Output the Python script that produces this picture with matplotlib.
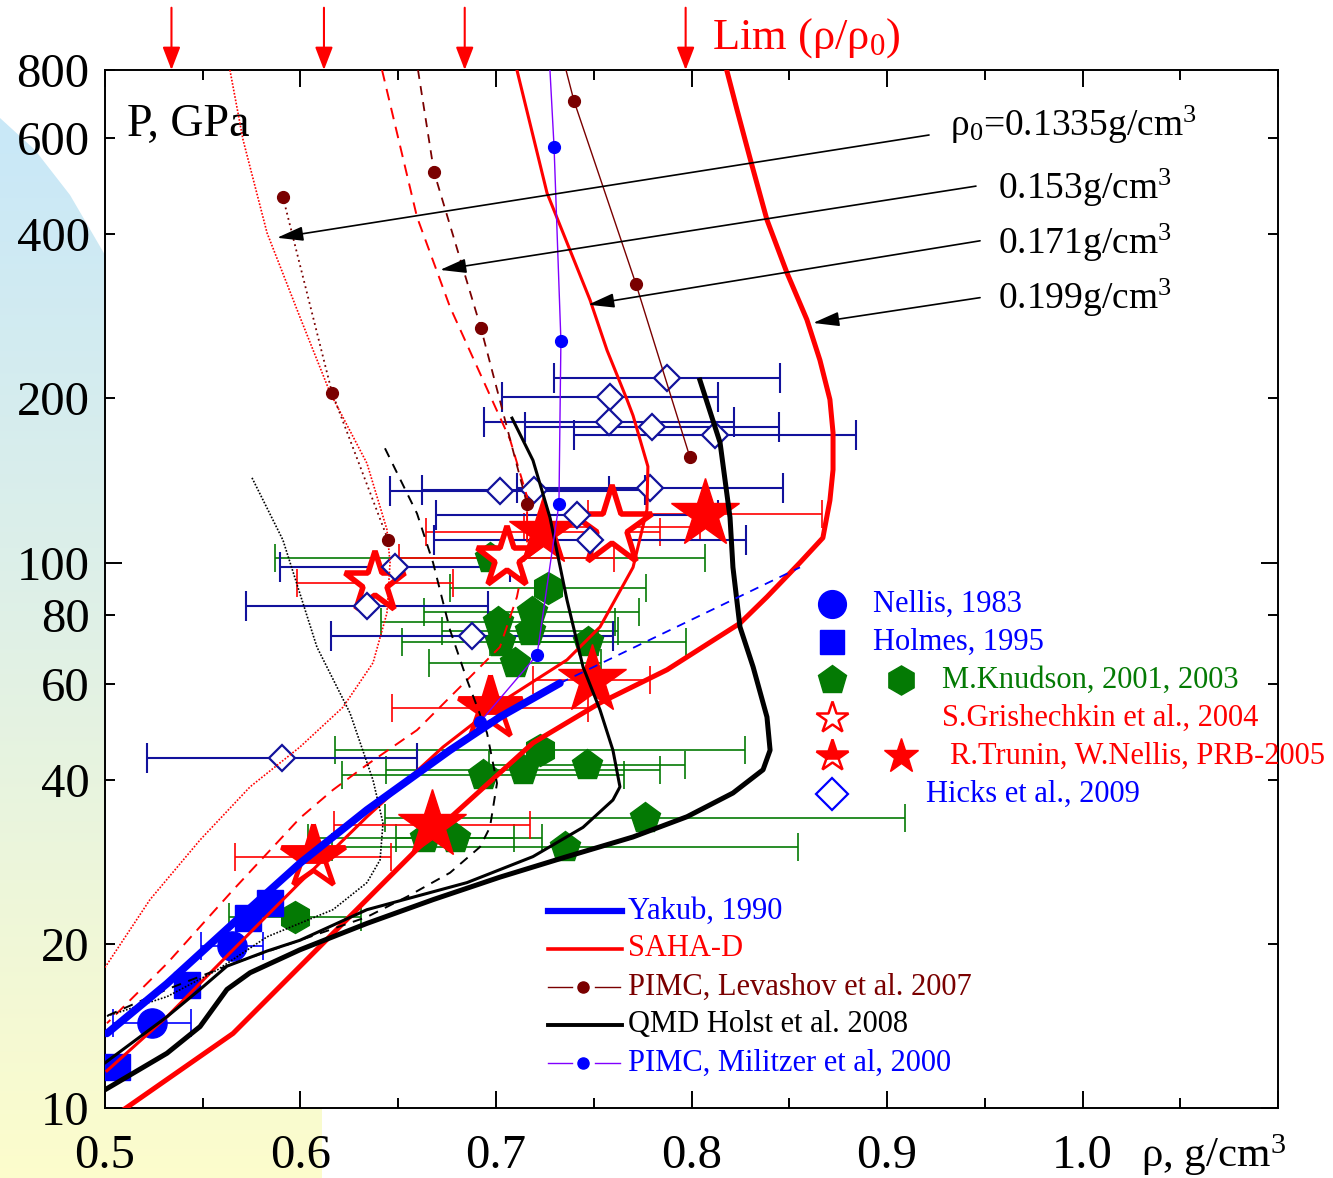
import numpy as np
import matplotlib
matplotlib.use('Agg')
import matplotlib.pyplot as plt
from matplotlib.path import Path
from matplotlib.patches import PathPatch

plt.rcParams['font.family'] = ['Liberation Serif', 'DejaVu Serif']
plt.rcParams['mathtext.fontset'] = 'custom'
plt.rcParams['mathtext.rm'] = 'Liberation Serif'
plt.rcParams['mathtext.it'] = 'Liberation Serif:italic'
plt.rcParams['mathtext.bf'] = 'Liberation Serif:bold'
plt.rcParams['mathtext.default'] = 'regular'

# ---------------- data (rho in g/cm3, P in GPa) ----------------
rho0_labels = ['ρ$_0$=0.1335g/cm$^3$', '0.153g/cm$^3$', '0.171g/cm$^3$', '0.199g/cm$^3$']
lim_rho = [0.534, 0.612, 0.684, 0.797]

# SAHA-D hugoniots for the four initial densities
saha_0199_x = [0.818, 0.8233, 0.830, 0.8386, 0.8488, 0.859, 0.8657, 0.8708, 0.8724, 0.8724, 0.8708,
               0.8672, 0.8555, 0.8386, 0.8248, 0.7875, 0.7532, 0.7189, 0.6678, 0.6166, 0.5655, 0.509]
saha_0199_y = [800, 676, 550, 425, 340, 279, 235, 199, 173, 148, 130,
               111, 100, 86.5, 77.4, 63.6, 55.3, 46.7, 31.9, 20.9, 13.7, 9.9]
saha_0171_x = [0.7107, 0.7261, 0.7481, 0.7568, 0.767, 0.7701, 0.7777, 0.7772, 0.7701, 0.7532,
               0.7363, 0.702, 0.6729, 0.634, 0.5997, 0.5655, 0.5317, 0.501]
saha_0171_y = [800, 476, 303, 245, 199, 186, 150, 125, 98, 76.2,
               66.3, 55.3, 45.9, 34.2, 25.9, 19.5, 14.7, 11.7]
saha_0153_x = [0.6417, 0.6596, 0.6765, 0.6934, 0.7072, 0.7159, 0.7159, 0.7107, 0.702, 0.6852,
               0.6596, 0.634, 0.6166, 0.5997, 0.5655, 0.5317, 0.501]
saha_0153_y = [800, 430, 294, 216, 168, 132, 107, 86.5, 70, 60.9,
               49.3, 42.6, 38.3, 34.0, 25.1, 18.4, 14.3]
saha_01335_x = [0.5639, 0.5706, 0.5829, 0.5997, 0.6151, 0.634, 0.6442, 0.6458, 0.6442, 0.6371,
                0.6217, 0.5997, 0.5742, 0.5486, 0.523, 0.5]
saha_01335_y = [800, 596, 402, 282, 205, 152, 115, 100, 80.8, 65.5,
                54.3, 45.9, 38.8, 31.0, 24.1, 18.1]

# QMD Holst et al. 2008
qmd_a_x = [0.8043, 0.8146, 0.8197, 0.8212, 0.8248, 0.8315, 0.8386, 0.8402, 0.8366, 0.8212, 0.7977,
           0.7701, 0.7363, 0.702, 0.6678, 0.634, 0.5997, 0.5742, 0.5624, 0.5486, 0.5317, 0.5]
qmd_a_y = [216, 166, 121, 98, 76.2, 64.4, 52.1, 45.3, 41.7, 37.8, 34.2,
           31.4, 28.9, 26.5, 24.1, 21.8, 19.5, 17.7, 16.5, 14.1, 12.6, 10.8]
qmd_b_x = [0.7082, 0.7189, 0.7276, 0.7363, 0.7445, 0.7532, 0.7598, 0.7634, 0.7598, 0.7445,
           0.7189, 0.6852, 0.634, 0.5997, 0.5829, 0.5624, 0.5486, 0.5317, 0.5]
qmd_b_y = [184, 154, 121, 85.4, 64.4, 53.7, 45.3, 38.8, 36.7, 32.7,
           28.9, 25.9, 23.1, 20.3, 19.4, 18.2, 16.5, 14.7, 12.1]
qmd_dash_x = [0.6432, 0.6596, 0.6678, 0.6765, 0.6852, 0.6954, 0.7005, 0.6969, 0.6918, 0.6765,
              0.6545, 0.634, 0.5997, 0.5655, 0.5317, 0.5]
qmd_dash_y = [162, 123, 100, 75.2, 60.9, 48.7, 39.4, 32.7, 30.1, 27.0,
              24.4, 22.4, 20.3, 18.4, 16.5, 14.7]
qmd_dot_x = [0.5752, 0.591, 0.6084, 0.6253, 0.6371, 0.6422, 0.6407, 0.634, 0.6166, 0.5829,
             0.5573, 0.5317, 0.5]
qmd_dot_y = [143, 110, 70, 53, 39.9, 33.3, 28.5, 25.9, 23.1, 20.6, 17.9, 16.0, 14.7]

# Yakub 1990
yakub_x = [0.501, 0.5317, 0.5655, 0.5997, 0.634, 0.6765, 0.702, 0.7327]
yakub_y = [13.7, 16.9, 21.8, 28.1, 35.2, 45.3, 52.1, 60.1]
yakub_ext_x = [0.7327, 0.8555]
yakub_ext_y = [60.1, 98]

# PIMC Militzer 2000 (first value = line end at the frame)
mil_x = [0.7276, 0.7297, 0.7332, 0.7322, 0.721, 0.6918]
mil_y = [800, 578, 255, 128, 67.7, 51.0]

# PIMC Levashov 2007
lev1_x = [0.591, 0.6161, 0.6448]
lev1_y = [468, 205, 110]
lev2_x = [0.6601, 0.6683, 0.6923, 0.7159]
lev2_y = [800, 520, 269, 128]
lev3_x = [0.7358, 0.7399, 0.7716, 0.7992]
lev3_y = [800, 702, 324, 156]

# experiments
nellis_x = [0.524, 0.565]
nellis_y = [14.3, 19.8]
nellis_err = [0.02, 0.016]
holmes_x = [0.506, 0.542, 0.573, 0.5844]
holmes_y = [11.9, 16.8, 22.3, 23.8]

knud_p_x = [0.697, 0.7184, 0.701, 0.7174, 0.702, 0.7097, 0.7471, 0.6934, 0.7138, 0.7465,
            0.7762, 0.679, 0.7353, 0.6637]
knud_p_y = [102, 81.2, 77.8, 75.0, 71.5, 65.5, 71.5, 40.8, 41.7, 42.6,
            34.0, 31.3, 30.1, 31.2]
knud_p_err = [0.11, 0.055, 0.06, 0.045, 0.05, 0.044, 0.05, 0.072, 0.07, 0.05,
              0.133, 0.03, 0.119, 0.06]
knud_h_x = [0.5972, 0.7225, 0.7266]
knud_h_y = [22.4, 45.3, 89.8]
knud_h_err = [0.034, 0.105, 0.05]

grish_x = [0.6381, 0.7056, 0.7593]
grish_y = [91.8, 102, 116]
grish_err = [0.04, 0.055, 0.045]

trunin_f_x = [0.8069, 0.724, 0.749, 0.6673]
trunin_f_y = [123, 114, 60.9, 33.0]
trunin_f_err = [0.06, 0.06, 0.03, 0.05]
trunin_h_x = [0.697, 0.6064]
trunin_h_y = [54.1, 28.9]
trunin_h_err = [0.05, 0.04]

hicks_x = [0.7875, 0.7583, 0.7578, 0.7798, 0.812, 0.702, 0.7194, 0.7788, 0.7414, 0.7481,
           0.6483, 0.634, 0.6877, 0.5905]
hicks_y = [218, 201, 181, 177, 171, 135, 136, 137, 122, 110, 98.2, 83.2, 73.3, 43.8]
hicks_err = [0.058, 0.055, 0.064, 0.065, 0.072, 0.056, 0.057, 0.068, 0.072, 0.08,
             0.059, 0.062, 0.072, 0.069]

# arrows from the rho0 labels to the curves
arrow_tail_x = [0.9215, 0.9455, 0.9476, 0.9476]
arrow_tail_y = [608, 490, 389, 306]
arrow_head_x = [0.588, 0.6714, 0.7471, 0.8622]
arrow_head_y = [394, 344, 297, 275]
label_x = [0.932, 0.9568, 0.9568, 0.9568]
label_y = [634, 486, 385, 306]

RED = '#ff0000'
GREEN = '#047a04'
NAVY = '#12129c'
BLUE = '#0000ff'
MAROON = '#7a0000'
PURPLE = '#8000ff'

fig = plt.figure(figsize=(13.33, 11.78), dpi=100)
fig.patch.set_facecolor('white')

# soft gradient decoration behind the frame
bg = fig.add_axes([0, 0, 1, 1], zorder=0)
bg.set_xlim(0, 1333)
bg.set_ylim(1178, 0)
bg.axis('off')
t = np.linspace(0, 1, 400)
stops_t = [0, 0.12, 0.5, 1.0]
stops_c = np.array([[0.79, 0.91, 0.97], [0.79, 0.91, 0.97], [0.87, 0.94, 0.91], [0.99, 0.99, 0.80]])
grad = np.stack([np.interp(t, stops_t, stops_c[:, c]) for c in range(3)], axis=-1)[:, None, :]
im = bg.imshow(grad, extent=[0, 1333, 1178, 0], aspect='auto')
verts = [(0, 118), (35, 150), (70, 195), (105, 255), (160, 345), (220, 460), (280, 590),
         (322, 700), (322, 1178), (0, 1178), (0, 118)]
clip = PathPatch(Path(verts), transform=bg.transData, facecolor='none', edgecolor='none')
bg.add_patch(clip)
im.set_clip_path(clip)

ax = fig.add_axes([105 / 1333, 70 / 1178, 1173 / 1333, 1038 / 1178], zorder=1)
ax.set_facecolor('white')
ax.set_yscale('log')
ax.set_xlim(0.5, 1.1)
ax.set_ylim(10, 800)

# ---- experimental points ----
eb = dict(fmt='none', elinewidth=1.2, capsize=10, capthick=1.2, zorder=2)
ax.errorbar(knud_p_x, knud_p_y, xerr=knud_p_err, ecolor=GREEN, **eb)
ax.errorbar(knud_h_x, knud_h_y, xerr=knud_h_err, ecolor=GREEN, **eb)
ax.errorbar(nellis_x, nellis_y, xerr=nellis_err, ecolor=BLUE, **eb)
ax.errorbar(grish_x, grish_y, xerr=grish_err, ecolor=RED, **eb)
ax.errorbar(trunin_f_x, trunin_f_y, xerr=trunin_f_err, ecolor=RED, **eb)
ax.errorbar(trunin_h_x, trunin_h_y, xerr=trunin_h_err, ecolor=RED, **eb)
ax.errorbar(hicks_x, hicks_y, xerr=hicks_err, ecolor=NAVY, fmt='none', elinewidth=1.5,
            capsize=11, capthick=1.5, zorder=2)

ax.plot(knud_p_x, knud_p_y, 'p', ms=23, color=GREEN, mec=GREEN, zorder=3)
ax.plot(knud_h_x, knud_h_y, 'h', ms=23, color=GREEN, mec=GREEN, zorder=3)
ax.plot(nellis_x, nellis_y, 'o', ms=21, color=BLUE, zorder=3)
ax.plot(holmes_x, holmes_y, 's', ms=19, color=BLUE, zorder=3)
for x, y, s in zip(grish_x, grish_y, [46, 46, 60]):
    ax.plot(x, y, '*', ms=s, mfc='white', mec=RED, mew=4, zorder=3.5)
ax.plot(trunin_f_x, trunin_f_y, '*', ms=52, color=RED, mec=RED, zorder=3.5)
ax.plot(trunin_h_x, trunin_h_y, '*', ms=48, fillstyle='top', mfc=RED, mfcalt='white',
        mec=RED, mew=3.5, zorder=3.5)
ax.plot(hicks_x, hicks_y, 'D', ms=13.5, mfc='white', mec=NAVY, mew=1.6, zorder=4)

# ---- theory curves ----
ax.plot(saha_0199_x, saha_0199_y, color=RED, lw=3.6, zorder=5)
ax.plot(saha_0171_x, saha_0171_y, color=RED, lw=2.2, zorder=5)
ax.plot(saha_0153_x, saha_0153_y, color=RED, lw=1.4, ls=(0, (6, 4)), zorder=5)
ax.plot(saha_01335_x, saha_01335_y, color=RED, lw=1.2, ls=(0, (1, 1)), zorder=5)
ax.plot(qmd_a_x, qmd_a_y, color='black', lw=3.6, zorder=5)
ax.plot(qmd_b_x, qmd_b_y, color='black', lw=2.2, zorder=5)
ax.plot(qmd_dash_x, qmd_dash_y, color='black', lw=1.4, ls=(0, (5, 4)), zorder=5)
ax.plot(qmd_dot_x, qmd_dot_y, color='black', lw=1.2, ls=(0, (1, 1)), zorder=5)
ax.plot(yakub_x, yakub_y, color=BLUE, lw=5.5, solid_capstyle='round', zorder=5)
ax.plot(yakub_ext_x, yakub_ext_y, color=BLUE, lw=1.3, ls=(0, (5, 4)), zorder=5)

ax.plot(mil_x, mil_y, color=PURPLE, lw=1.0, zorder=6)
ax.plot(mil_x[1:], mil_y[1:], 'o', ms=8.5, color=BLUE, zorder=6)
ax.plot(lev1_x, lev1_y, color=MAROON, lw=1.3, ls=(0, (1, 2)), zorder=6)
ax.plot(lev1_x, lev1_y, 'o', ms=8.5, color=MAROON, zorder=6)
ax.plot(lev2_x, lev2_y, color=MAROON, lw=1.3, ls=(0, (5, 4)), zorder=6)
ax.plot(lev2_x[1:], lev2_y[1:], 'o', ms=8.5, color=MAROON, zorder=6)
ax.plot(lev3_x, lev3_y, color=MAROON, lw=1.0, zorder=6)
ax.plot(lev3_x[1:], lev3_y[1:], 'o', ms=8.5, color=MAROON, zorder=6)

# ---- annotations ----
for tx, ty, hx, hy in zip(arrow_tail_x, arrow_tail_y, arrow_head_x, arrow_head_y):
    ax.annotate('', xy=(hx, hy), xytext=(tx, ty),
                arrowprops=dict(arrowstyle='-|>,head_length=0.8,head_width=0.22', color='black',
                                lw=1.2, mutation_scale=20, shrinkA=0, shrinkB=0), zorder=7)
for lab, lx, ly in zip(rho0_labels, label_x, label_y):
    ax.text(lx, ly, lab, fontsize=27, ha='left', va='center', zorder=7)

for x in lim_rho:
    ax.annotate('', xy=(x, 1.0), xycoords=('data', 'axes fraction'),
                xytext=(x, 1.06), textcoords=('data', 'axes fraction'),
                arrowprops=dict(arrowstyle='-|>,head_length=0.7,head_width=0.27', color=RED,
                                lw=1.5, mutation_scale=20, shrinkA=0, shrinkB=0),
                annotation_clip=False)
ax.text(0.5175, 1.031, 'Lim (ρ/ρ$_0$)', transform=ax.transAxes, fontsize=32, color=RED,
        ha='left', va='center')
ax.text(0.0188, 0.947, 'P, GPa', transform=ax.transAxes, fontsize=33, ha='left', va='center')
ax.text(0.8832, -0.045, 'ρ, g/cm$^3$', transform=ax.transAxes, fontsize=31, ha='left', va='center')

# ---- right-hand legend ----
T = ax.transAxes
lg = dict(transform=T, clip_on=False, zorder=8)
ax.plot(0.6198, 0.4855, 'o', ms=20, color=BLUE, **lg)
ax.plot(0.6198, 0.4489, 's', ms=17, color=BLUE, **lg)
ax.plot(0.6198, 0.4123, 'p', ms=21, color=GREEN, **lg)
ax.plot(0.6786, 0.4123, 'h', ms=21, color=GREEN, **lg)
ax.plot(0.6198, 0.3757, '*', ms=24, mfc='white', mec=RED, mew=1.8, **lg)
ax.plot(0.6198, 0.3391, '*', ms=24, fillstyle='top', mfc=RED, mfcalt='white', mec=RED, mew=1.8, **lg)
ax.plot(0.6786, 0.3391, '*', ms=26, color=RED, **lg)
ax.plot(0.6198, 0.3025, 'D', ms=16, mfc='white', mec=BLUE, mew=1.6, **lg)
lt = dict(transform=T, fontsize=22, ha='left', va='center', zorder=8)
ax.text(0.6547, 0.4855, 'Nellis, 1983', color=BLUE, **lt)
ax.text(0.6547, 0.4489, 'Holmes, 1995', color=BLUE, **lt)
ax.text(0.7136, 0.4123, 'M.Knudson, 2001, 2003', color=GREEN, **lt)
ax.text(0.7136, 0.3757, 'S.Grishechkin et al., 2004', color=RED, **lt)
ax.text(0.7204, 0.3391, 'R.Trunin, W.Nellis, PRB-2005', color=RED, **lt)
ax.text(0.6999, 0.3025, 'Hicks et al., 2009', color=BLUE, **lt)

# ---- lower legend ----
x0, x1, xt = 0.3777, 0.4408, 0.4459
ax.plot([x0, x1], [0.1898, 0.1898], color=BLUE, lw=4.5, **lg)
ax.text(xt, 0.1898, 'Yakub, 1990', color=BLUE, **lt)
ax.plot([x0, x1], [0.1532, 0.1532], color=RED, lw=2.6, **lg)
ax.text(xt, 0.1532, 'SAHA-D', color=RED, **lt)
ax.plot([x0, 0.3981], [0.1166, 0.1166], color=MAROON, lw=1.0, **lg)
ax.plot([0.4177, 0.4390], [0.1166, 0.1166], color=MAROON, lw=1.0, **lg)
ax.plot(0.4075, 0.1166, 'o', ms=8, color=MAROON, **lg)
ax.text(xt, 0.1166, 'PIMC, Levashov et al. 2007', color=MAROON, **lt)
ax.plot([x0, x1], [0.0800, 0.0800], color='black', lw=2.8, **lg)
ax.text(xt, 0.0800, 'QMD Holst et al. 2008', color='black', **lt)
ax.plot([x0, 0.3981], [0.0434, 0.0434], color=PURPLE, lw=1.0, **lg)
ax.plot([0.4177, 0.4390], [0.0434, 0.0434], color=PURPLE, lw=1.0, **lg)
ax.plot(0.4075, 0.0434, 'o', ms=8, color=BLUE, **lg)
ax.text(xt, 0.0434, 'PIMC, Militzer et al, 2000', color=BLUE, **lt)

# ---- axes styling ----
ax.set_xticks([0.5, 0.6, 0.7, 0.8, 0.9, 1.0, 1.1], labels=['0.5', '0.6', '0.7', '0.8', '0.9', '1.0', ''])
ax.set_xticks([0.55, 0.65, 0.75, 0.85, 0.95, 1.05], minor=True)
ax.set_yticks([10, 100], labels=['10', '100'])
ax.set_yticks([20, 40, 60, 80, 200, 400, 600, 800],
              labels=['20', '40', '60', '80', '200', '400', '600', '800'], minor=True)
ax.tick_params(which='both', direction='in', top=True, right=True, width=1.4, labelsize=35)
ax.tick_params(which='major', length=12)
ax.tick_params(which='minor', length=7)
ax.tick_params(axis='x', which='both', pad=19)
ax.tick_params(axis='y', which='both', pad=11)
for sp in ax.spines.values():
    sp.set_linewidth(1.4)

fig.savefig('out.png', dpi=100)
